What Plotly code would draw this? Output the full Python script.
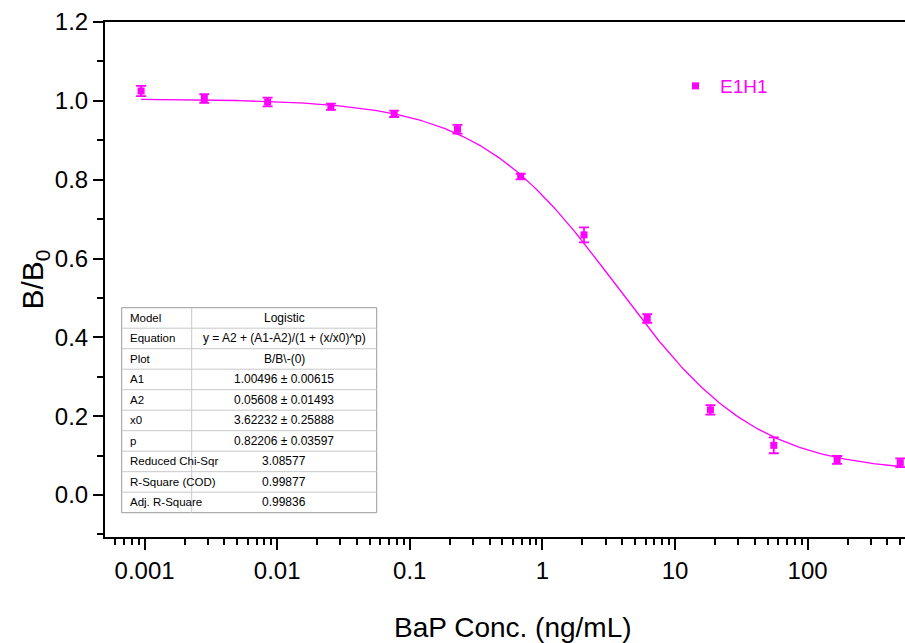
import numpy as np
import plotly.graph_objects as go

# BaP concentrations (ng/mL), three-fold dilution series
conc = [0.000941, 0.00282, 0.00847, 0.0254, 0.0762, 0.229, 0.686,
        2.06, 6.17, 18.5, 55.6, 167.0, 500.0]
# Normalised binding B/B0 and its standard deviation
ratio = [1.025, 1.006, 0.997, 0.985, 0.967, 0.928, 0.808,
         0.660, 0.448, 0.216, 0.126, 0.089, 0.082]
ratio_sd = [0.013, 0.011, 0.011, 0.008, 0.008, 0.011, 0.007,
            0.019, 0.011, 0.012, 0.020, 0.010, 0.011]

# Logistic fit results
A1, A2, X0, P = 1.00496, 0.05608, 3.62232, 0.82206
table_labels = ["Model", "Equation", "Plot", "A1", "A2", "x0", "p",
                "Reduced Chi-Sqr", "R-Square (COD)", "Adj. R-Square"]
table_values = ["Logistic", "y = A2 + (A1-A2)/(1 + (x/x0)^p)", "B/B\\-(0)",
                "1.00496 ± 0.00615", "0.05608 ± 0.01493",
                "3.62232 ± 0.25888", "0.82206 ± 0.03597",
                "3.08577", "0.99877", "0.99836"]

MAG = "#ff00ff"
W, H = 905, 643
ML, MR, MT, MB = 105, 0, 22, 106
PW, PH = W - ML - MR, H - MT - MB

SANS = "Liberation Sans, Arial, sans-serif"


def px_x(x):
    return (x - ML) / PW


def px_y(y):
    return (H - MB - y) / PH


xfit = np.logspace(np.log10(conc[0]), np.log10(conc[-1]), 400)
yfit = A2 + (A1 - A2) / (1 + (xfit / X0) ** P)

fig = go.Figure()
fig.add_trace(go.Scatter(
    x=xfit, y=yfit, mode="lines", line=dict(color=MAG, width=1.3),
    showlegend=False, hoverinfo="skip"))
fig.add_trace(go.Scatter(
    x=conc, y=ratio, mode="markers", name="E1H1",
    marker=dict(symbol="square", size=7, color=MAG),
    error_y=dict(type="data", array=ratio_sd, color=MAG, thickness=1.8, width=5)))

# fit-parameter table
tx0, tx1, tcol = 121.7, 376.7, 191.7
ty0, rowh = 307.7, 20.5
ty1 = ty0 + rowh * len(table_labels)
shapes = [dict(type="rect", xref="paper", yref="paper",
               x0=px_x(tx0), x1=px_x(tx1), y0=px_y(ty1), y1=px_y(ty0),
               fillcolor="white", line=dict(color="#9a9a9a", width=1), layer="above")]
for i in range(1, len(table_labels)):
    yy = px_y(ty0 + rowh * i)
    shapes.append(dict(type="line", xref="paper", yref="paper",
                       x0=px_x(tx0), x1=px_x(tx1), y0=yy, y1=yy,
                       line=dict(color="#c8c8c8", width=1), layer="above"))
shapes.append(dict(type="line", xref="paper", yref="paper",
                   x0=px_x(tcol), x1=px_x(tcol), y0=px_y(ty0), y1=px_y(ty1),
                   line=dict(color="#c8c8c8", width=1), layer="above"))

annotations = []
for i, (lab, val) in enumerate(zip(table_labels, table_values)):
    yc = px_y(ty0 + rowh * (i + 0.5))
    annotations.append(dict(xref="paper", yref="paper", x=px_x(tx0 + 6), y=yc,
                            xanchor="left", yanchor="middle", text=lab, showarrow=False,
                            font=dict(family=SANS, size=11.5, color="black")))
    annotations.append(dict(xref="paper", yref="paper", x=px_x((tcol + tx1) / 2), y=yc,
                            xanchor="center", yanchor="middle", text=val, showarrow=False,
                            font=dict(family=SANS, size=12, color="black")))

# x-axis title
annotations.append(dict(xref="paper", yref="paper", x=px_x(513), y=px_y(627),
                        xanchor="center", yanchor="middle", showarrow=False,
                        text="BaP Conc. (ng/mL)",
                        font=dict(family=SANS, size=28, color="black")))

fig.update_layout(
    width=W, height=H,
    margin=dict(l=ML, r=MR, t=MT, b=MB, pad=0),
    paper_bgcolor="white", plot_bgcolor="white",
    shapes=shapes, annotations=annotations,
    showlegend=True,
    legend=dict(x=px_x(671), y=px_y(67), xanchor="left", yanchor="top",
                itemwidth=39,
                bgcolor="rgba(0,0,0,0)", font=dict(family=SANS, size=19, color=MAG)),
    xaxis=dict(
        type="log", range=[-3.2986, -3.2986 + PW / 132.6],
        showgrid=False, zeroline=False,
        showline=True, linecolor="black", linewidth=2, mirror=True,
        ticks="outside", ticklen=11, tickwidth=2, tickcolor="black",
        tickvals=[0.001, 0.01, 0.1, 1, 10, 100],
        ticktext=["0.001", "0.01", "0.1", "1", "10", "100"],
        minor=dict(ticks="outside", ticklen=6, tickwidth=1.5, tickcolor="black",
                   dtick="D1", showgrid=False),
        tickfont=dict(family=SANS, size=24, color="black"),
        automargin=False,
    ),
    yaxis=dict(
        range=[-0.1065, 1.2],
        showgrid=False, zeroline=False,
        showline=True, linecolor="black", linewidth=2, mirror=False,
        ticks="outside", ticklen=10, tickwidth=2, tickcolor="black",
        tickvals=[0, 0.2, 0.4, 0.6, 0.8, 1.0, 1.2],
        ticktext=["0.0", "0.2", "0.4", "0.6", "0.8", "1.0", "1.2"],
        minor=dict(ticks="outside", ticklen=6, tickwidth=1.5, tickcolor="black",
                   dtick=0.1, showgrid=False),
        tickfont=dict(family=SANS, size=24, color="black"),
        title=dict(text="B/B<sub>0</sub>", standoff=2,
                   font=dict(family=SANS, size=30, color="black")),
        automargin=False,
    ),
)

fig.write_html("out.html")
